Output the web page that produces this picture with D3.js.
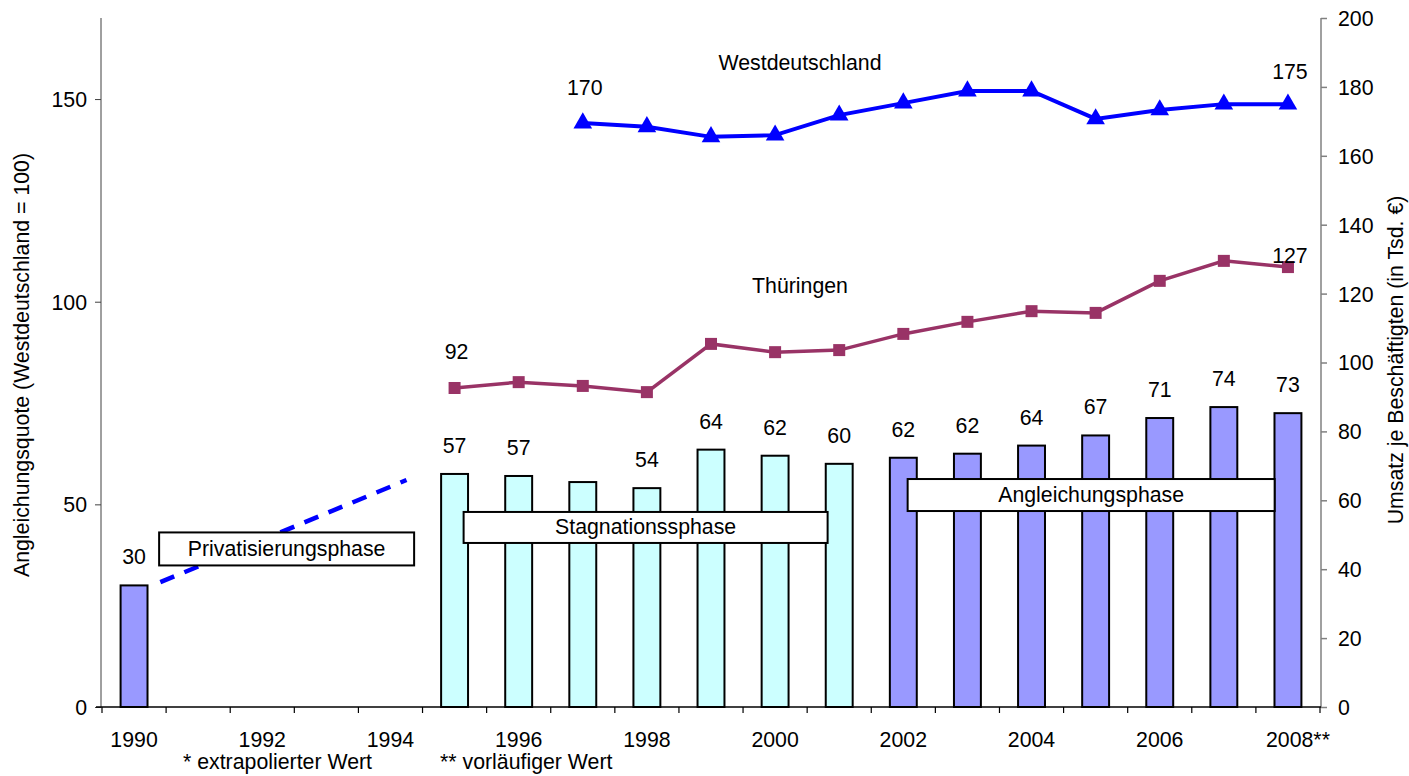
<!DOCTYPE html>
<html><head><meta charset="utf-8">
<script src="https://cdn.jsdelivr.net/npm/d3@7"></script>
<style>
body{margin:0;background:#fff;}
text{font-family:"Liberation Sans",Arial,sans-serif;fill:#000;}
</style></head>
<body><svg id="c" width="1409" height="776"></svg>
<script>
// ---- data ----
const years = [1990,1991,1992,1993,1994,1995,1996,1997,1998,1999,2000,2001,2002,2003,2004,2005,2006,2007,2008];
const yearTickLabels = ["1990","1992","1994","1996","1998","2000","2002","2004","2006","2008**"];
const quote = [30,null,null,null,null,57.5,57,55.5,54,63.5,62,60,61.5,62.5,64.5,67,71.3,74,72.5];
const quoteLabels = ["30","","","","","57","57","","54","64","62","60","62","62","64","67","71","74","73"];
const phase = ["a","","","","","s","s","s","s","s","s","s","a","a","a","a","a","a","a"];
const westYears = [1997,1998,1999,2000,2001,2002,2003,2004,2005,2006,2007,2008];
const westVals = [169.5,168.4,165.5,166,171.8,175.3,178.8,178.8,170.7,173.3,175,175];
const thurYears = [1995,1996,1997,1998,1999,2000,2001,2002,2003,2004,2005,2006,2007,2008];
const thurVals = [92.6,94.3,93.2,91.4,105.4,103,103.6,108.3,111.8,114.9,114.4,123.7,129.5,127.7];
const extraYears = [1990.41,1994.25];
const extraVals = [30.8,56];
const leftTicks = [0,50,100,150];
const rightTicks = [0,20,40,60,80,100,120,140,160,180,200];
const phaseNames = ["Privatisierungsphase","Stagnationssphase","Angleichungsphase"];
const phaseCenterYear = [1992.38,1997.98,2004.93];
const phaseCenterVal = [39,44.3,52.3];
const lineLabels = [{s:"w",year:1997,text:"170"},{s:"w",year:2008,text:"175"},{s:"t",year:1995,text:"92"},{s:"t",year:2008,text:"127"}];

// ---- layout ----
const L=102, R=1320, T=18, B=707;
const svg=d3.select("#c");
const x=d3.scaleBand().domain(years).range([L,R]).padding(0);
const step=x.step();
const xc=y=>x(y)+step/2;
const xYear=d3.scaleLinear().domain([1990,2008]).range([xc(1990),xc(2008)]);
const yL=d3.scaleLinear().domain([0,170]).range([B,T]);
const yR=d3.scaleLinear().domain([0,200]).range([B,T]);
const FS=21.3;

// bars
const bw=step*0.42;
const barData=years.map((yr,i)=>({yr,v:quote[i],lab:quoteLabels[i],ph:phase[i]})).filter(d=>d.v!=null);
svg.append("g").selectAll("rect").data(barData).join("rect")
 .attr("x",d=>xc(d.yr)-bw/2).attr("width",bw)
 .attr("y",d=>yL(d.v)).attr("height",d=>yL(0)-yL(d.v))
 .attr("fill",d=>d.ph==="s"?"#CCFFFF":"#9999FF")
 .attr("stroke","#000").attr("stroke-width",2);
svg.append("g").selectAll("text").data(barData.filter(d=>d.lab)).join("text")
 .attr("x",d=>xc(d.yr)).attr("y",d=>yL(d.v)-21)
 .attr("text-anchor","middle").attr("font-size",FS).text(d=>d.lab);

// dashed extrapolation
const ext=extraYears.map((yr,i)=>[xYear(yr),yL(extraVals[i])]);
svg.append("path").attr("d",d3.line()(ext)).attr("fill","none")
 .attr("stroke","#0000FF").attr("stroke-width",4.5).attr("stroke-dasharray","15,11");

// phase boxes
const boxW=[255,364,367], boxH=[33,31,32];
phaseNames.forEach((n,i)=>{
  const cx=xYear(phaseCenterYear[i]), cy=yL(phaseCenterVal[i]);
  svg.append("rect").attr("x",cx-boxW[i]/2).attr("y",cy-boxH[i]/2).attr("width",boxW[i]).attr("height",boxH[i])
   .attr("fill","#fff").attr("stroke","#000").attr("stroke-width",2);
  svg.append("text").attr("x",cx).attr("y",cy+7).attr("text-anchor","middle").attr("font-size",FS).text(n);
});

// lines
const line=d3.line().x(d=>xc(d[0])).y(d=>yR(d[1]));
const west=westYears.map((y,i)=>[y,westVals[i]]);
const thur=thurYears.map((y,i)=>[y,thurVals[i]]);
svg.append("path").attr("d",line(west)).attr("fill","none").attr("stroke","#0000FF").attr("stroke-width",4);
svg.append("path").attr("d",line(thur)).attr("fill","none").attr("stroke","#993366").attr("stroke-width",3.5);
const tri=d3.symbol().type(d3.symbolTriangle).size(150);
svg.append("g").selectAll("path").data(west).join("path")
 .attr("d",tri).attr("transform",d=>`translate(${xc(d[0])},${yR(d[1])})`).attr("fill","#0000FF");
svg.append("g").selectAll("rect").data(thur).join("rect")
 .attr("x",d=>xc(d[0])-6).attr("y",d=>yR(d[1])-6).attr("width",12).attr("height",12).attr("fill","#993366");

// line labels
const lblDy={"w1997":-28,"w2008":-25,"t1995":-29,"t2008":-4};
lineLabels.forEach(l=>{
  const arr=l.s==="w"?west:thur;
  const p=arr.find(d=>d[0]===l.year);
  svg.append("text").attr("x",xc(l.year)+2).attr("y",yR(p[1])+lblDy[l.s+l.year])
   .attr("text-anchor","middle").attr("font-size",FS).text(l.text);
});
svg.append("text").attr("x",800).attr("y",yR(200)+52).attr("text-anchor","middle").attr("font-size",FS).text("Westdeutschland");
svg.append("text").attr("x",800).attr("y",yR(120)-1).attr("text-anchor","middle").attr("font-size",FS).text("Thüringen");

// axes
const gl=svg.append("g").attr("transform",`translate(${L-1},0)`)
 .call(d3.axisLeft(yL).tickValues(leftTicks).tickSize(6).tickPadding(8));
gl.select(".domain").attr("d",`M-0,${T}V${B}`).attr("stroke","#404040");
gl.selectAll(".tick line").attr("stroke","#404040");
gl.selectAll("text").attr("font-size",FS).attr("font-family","Liberation Sans").attr("fill","#000").attr("dy","0.35em");

const gr=svg.append("g").attr("transform",`translate(${R+1},0)`)
 .call(d3.axisRight(yR).tickValues(rightTicks).tickSize(6).tickPadding(11));
gr.select(".domain").attr("d",`M0,${T}V${B}`).attr("stroke","#808080").attr("stroke-width",1.5);
gr.selectAll(".tick line").attr("stroke","#808080").attr("stroke-width",1.5);
gr.selectAll("text").attr("font-size",FS).attr("font-family","Liberation Sans").attr("fill","#000").attr("dy","0.35em");

// x axis
svg.append("line").attr("x1",L-6).attr("x2",R+1).attr("y1",B).attr("y2",B).attr("stroke","#000").attr("stroke-width",1.5);
svg.append("g").selectAll("line").data(years.concat([null])).join("line")
 .attr("x1",d=>d==null?R:x(d)).attr("x2",d=>d==null?R:x(d)).attr("y1",B).attr("y2",B+6)
 .attr("stroke","#000").attr("stroke-width",1.2);
const labelYears=years.filter((y,i)=>i%2===0);
svg.append("g").selectAll("text").data(labelYears).join("text")
 .attr("x",(d,i)=>xc(d)+(i===labelYears.length-1?10:0)).attr("y",B+40).attr("text-anchor","middle").attr("font-size",FS)
 .text((d,i)=>yearTickLabels[i]);

// footnotes
svg.append("text").attr("x",183).attr("y",769).attr("font-size",FS).text("* extrapolierter Wert");
svg.append("text").attr("x",440).attr("y",769).attr("font-size",FS).text("** vorläufiger Wert");

// axis titles
svg.append("text").attr("transform","translate(29,365) rotate(-90)").attr("text-anchor","middle").attr("font-size",FS)
 .text("Angleichungsquote (Westdeutschland = 100)");
svg.append("text").attr("transform","translate(1403,360) rotate(-90)").attr("text-anchor","middle").attr("font-size",FS)
 .text("Umsatz je Beschäftigten (in Tsd. €)");
</script></body></html>
